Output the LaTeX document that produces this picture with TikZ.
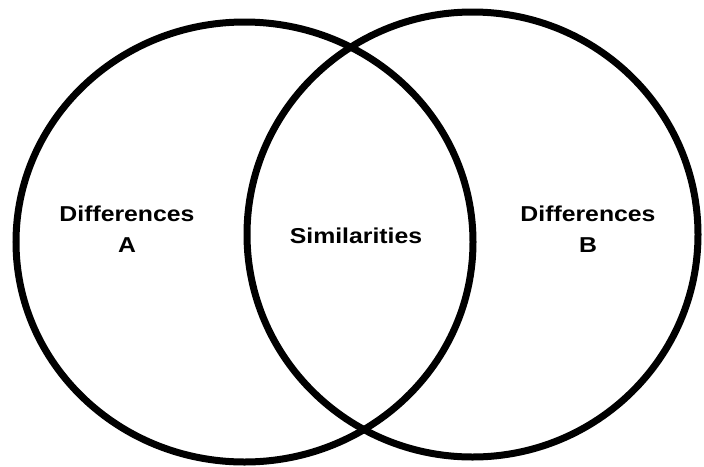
\documentclass[tikz,border=0pt]{standalone}
\usepackage{fontspec}
\newfontfamily\vennfont{Liberation Sans}[FakeStretch=1.15]
\usetikzlibrary{positioning}

\begin{document}
\begin{tikzpicture}[
    x=0.03cm, y=-0.03cm,
    every node/.style={align=center,font=\vennfont\bfseries\fontsize{18.4}{26.5}\selectfont},
    ring/.style={line width=0.21cm}
]
    \useasboundingbox (0,0) rectangle (704,466);

    % the two sets
    \draw[ring] (244.5,242) ellipse [x radius=228.5, y radius=220];
    \draw[ring] (472.5,234.5) ellipse [x radius=225.5, y radius=222.5];

    \node (diffA) at (127,229) {Differences\\A};
    \node (simil) at (356,236) {Similarities};
    \node (diffB) at (588,229) {Differences\\B};
\end{tikzpicture}
\end{document}
